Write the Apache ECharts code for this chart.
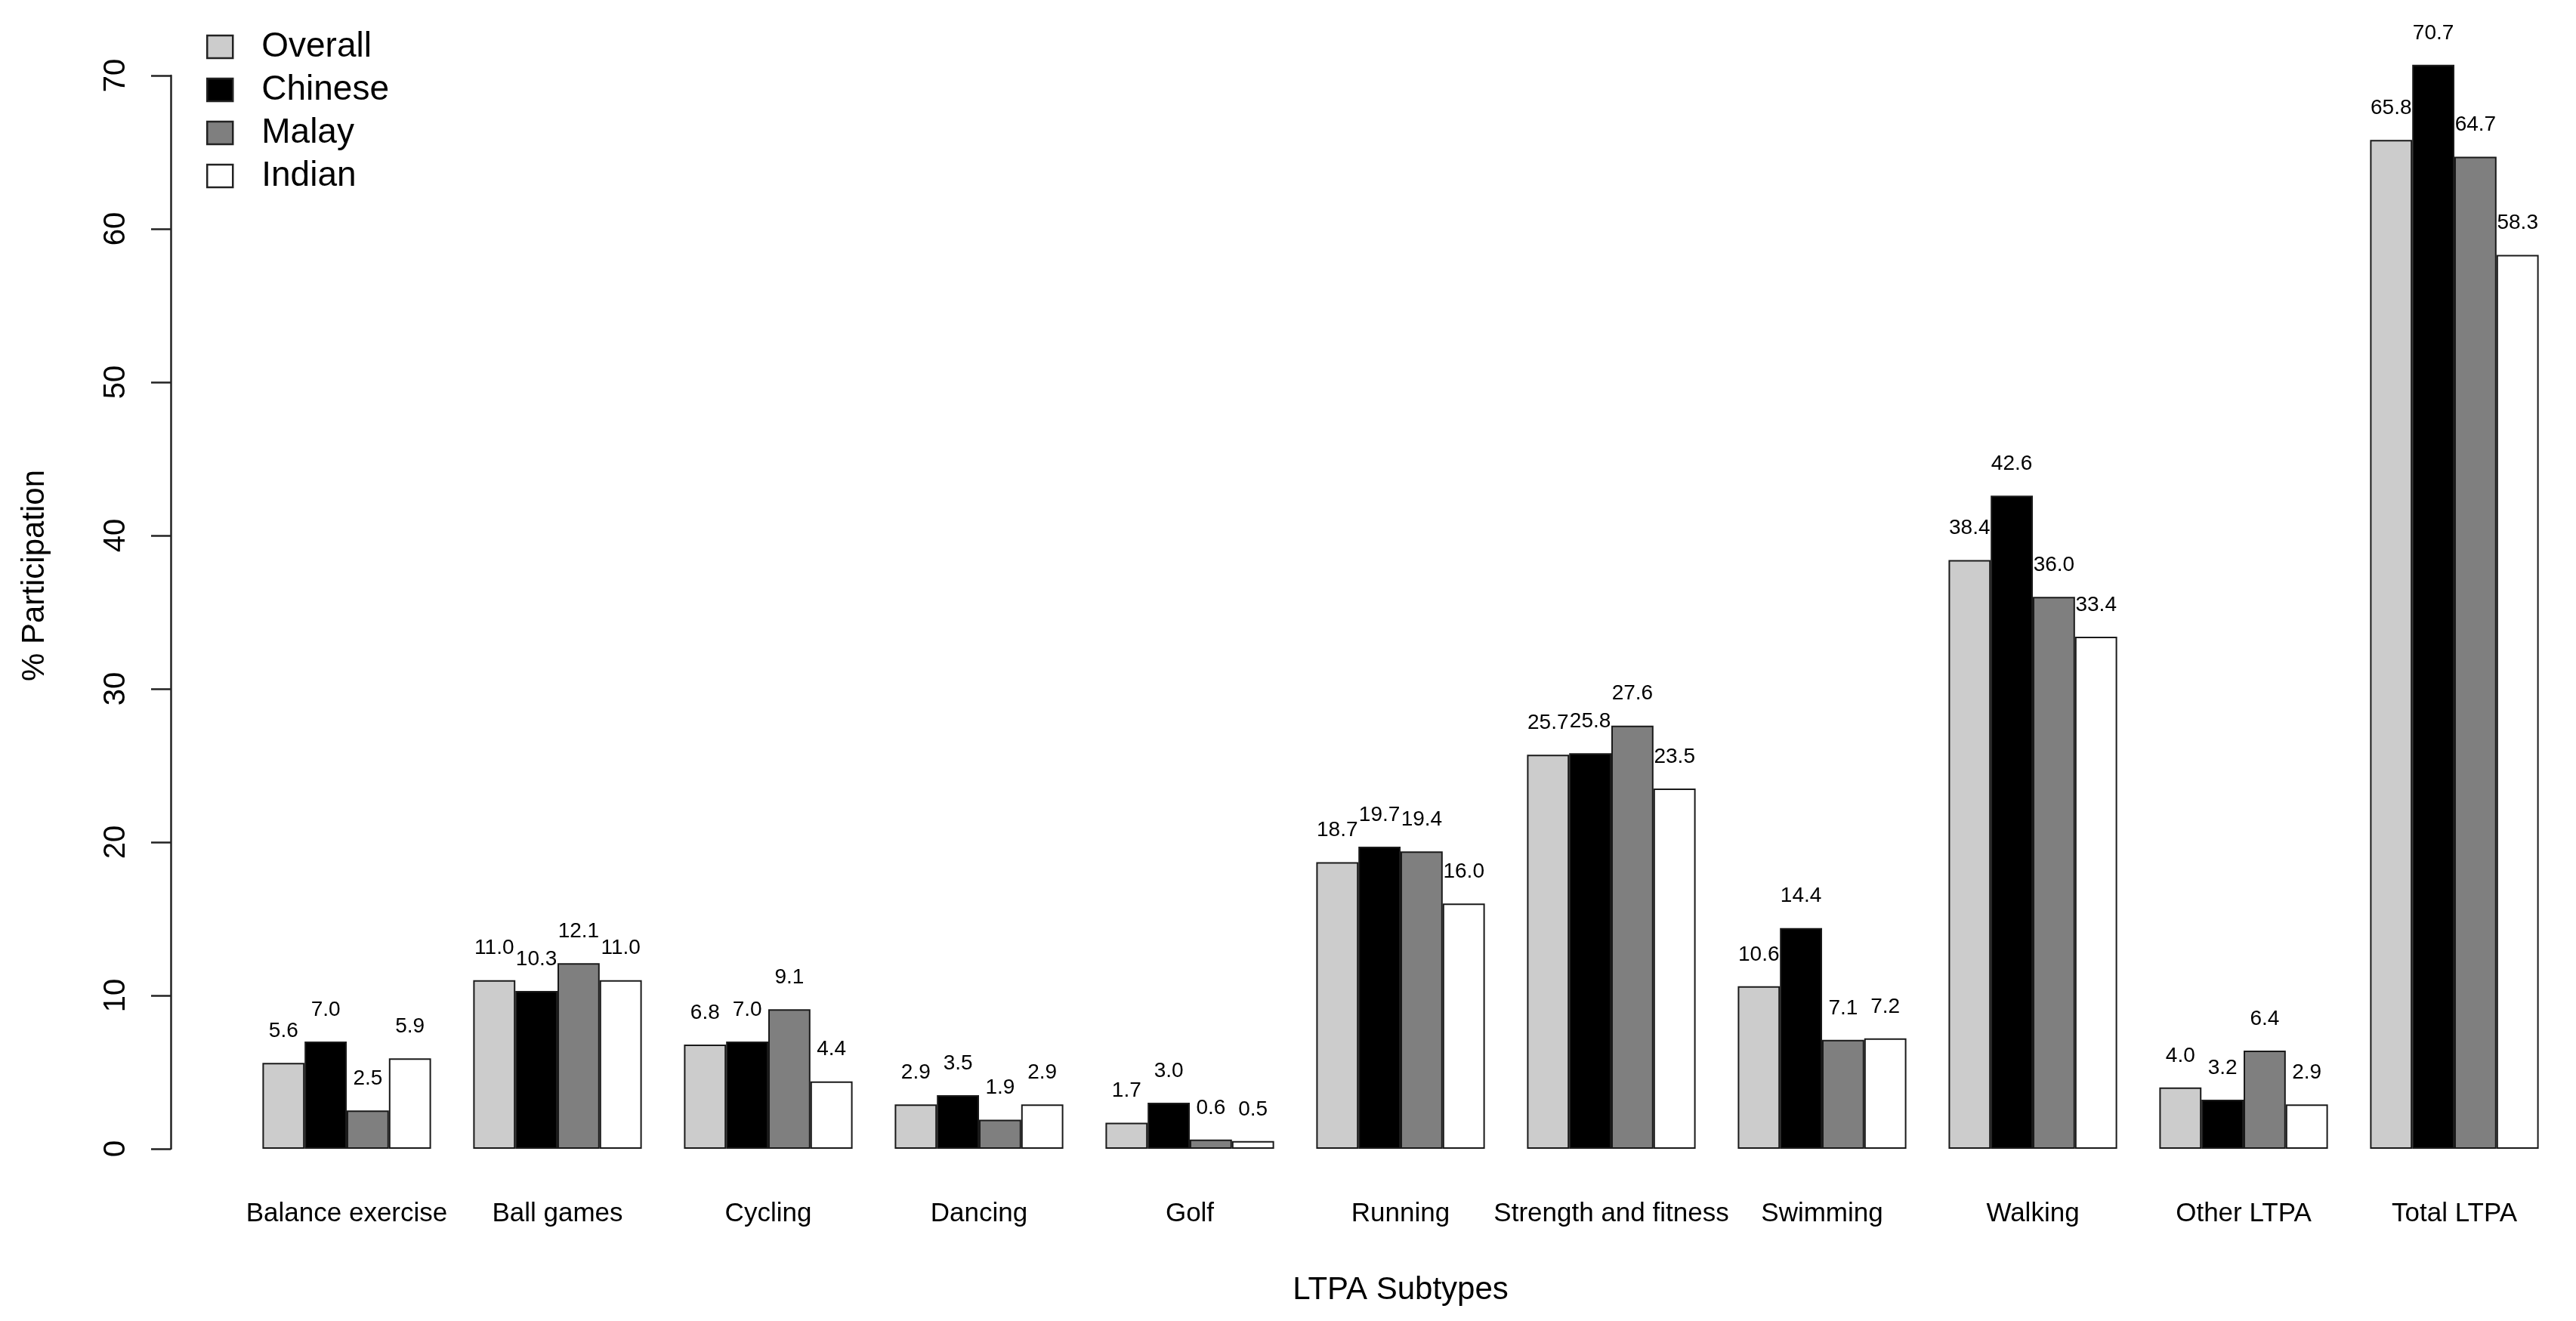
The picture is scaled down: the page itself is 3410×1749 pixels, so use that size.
<!DOCTYPE html>
<html>
<head>
<meta charset="utf-8">
<script src="https://cdn.jsdelivr.net/npm/echarts@6/dist/echarts.min.js"></script>
<style>
html,body{margin:0;padding:0;background:#fff;}
#chart{width:3410px;height:1749px;}
</style>
</head>
<body>
<div id="chart"></div>
<script>
const categories = ['Balance exercise','Ball games','Cycling','Dancing','Golf','Running','Strength and fitness','Swimming','Walking','Other LTPA','Total LTPA'];
const seriesNames = ['Overall','Chinese','Malay','Indian'];
const overall = [5.6, 11.0, 6.8, 2.9, 1.7, 18.7, 25.7, 10.6, 38.4, 4.0, 65.8];
const chinese = [7.0, 10.3, 7.0, 3.5, 3.0, 19.7, 25.8, 14.4, 42.6, 3.2, 70.7];
const malay   = [2.5, 12.1, 9.1, 1.9, 0.6, 19.4, 27.6, 7.1, 36.0, 6.4, 64.7];
const indian  = [5.9, 11.0, 4.4, 2.9, 0.5, 16.0, 23.5, 7.2, 33.4, 2.9, 58.3];
const yTicks = [0, 10, 20, 30, 40, 50, 60, 70];
const xTitle = 'LTPA Subtypes';
const yTitle = '% Participation';

const fills = ['#CCCCCC', '#000000', '#7F7F7F', '#FFFFFF'];
const FONT = '"Liberation Sans", Arial, Helvetica, sans-serif';
const values = [overall, chinese, malay, indian];

const chart = echarts.init(document.getElementById('chart'), null, {renderer: 'canvas'});
const option = {
  animation: false,
  backgroundColor: '#ffffff',
  textStyle: {fontFamily: FONT, color: '#000'},
  grid: {left: 319.5, right: 21.5, top: 100, bottom: 228, containLabel: false},
  legend: {
    orient: 'vertical',
    left: 268,
    top: 34,
    icon: 'rect',
    itemWidth: 34,
    itemHeight: 30,
    itemGap: 11,
    selectedMode: false,
    textStyle: {fontFamily: FONT, fontSize: 46, lineHeight: 46, color: '#000', padding: [0, 0, 0, 33]},
    itemStyle: {borderColor: '#222', borderWidth: 2.5},
    data: seriesNames
  },
  xAxis: {
    type: 'category',
    data: categories,
    axisLine: {show: false},
    axisTick: {show: false},
    axisLabel: {fontFamily: FONT, fontSize: 35, color: '#000', margin: 69, interval: 0},
    name: xTitle,
    nameLocation: 'middle',
    nameGap: 166,
    nameTextStyle: {fontFamily: FONT, fontSize: 42, color: '#000'}
  },
  yAxis: {
    type: 'value',
    min: 0,
    max: 70,
    interval: 10,
    offset: 93.5,
    splitLine: {show: false},
    axisLine: {show: true, lineStyle: {color: '#222', width: 2.5}},
    axisTick: {show: true, inside: false, length: 26, lineStyle: {color: '#222', width: 2.5}},
    axisLabel: {
      fontFamily: FONT, fontSize: 40, color: '#000', rotate: 90, margin: 52,
      formatter: function (v) { return yTicks.indexOf(v) >= 0 ? String(v) : ''; }
    }
  },
  graphic: [{
    type: 'text',
    x: 46,
    y: 762,
    rotation: Math.PI / 2,
    style: {text: yTitle, fontFamily: FONT, fontSize: 42, fill: '#000', align: 'center', verticalAlign: 'middle'}
  }],
  series: seriesNames.map(function (name, i) {
    return {
      name: name,
      type: 'bar',
      data: values[i],
      clip: false,
      barGap: '0%',
      barCategoryGap: '20%',
      itemStyle: {color: fills[i], borderColor: '#1a1a1a', borderWidth: 2},
      label: {
        show: true,
        position: 'top',
        distance: 28,
        fontFamily: FONT,
        fontSize: 28,
        color: '#000',
        formatter: function (p) { return Number(p.value).toFixed(1); }
      }
    };
  })
};
chart.setOption(option);
</script>
</body>
</html>
